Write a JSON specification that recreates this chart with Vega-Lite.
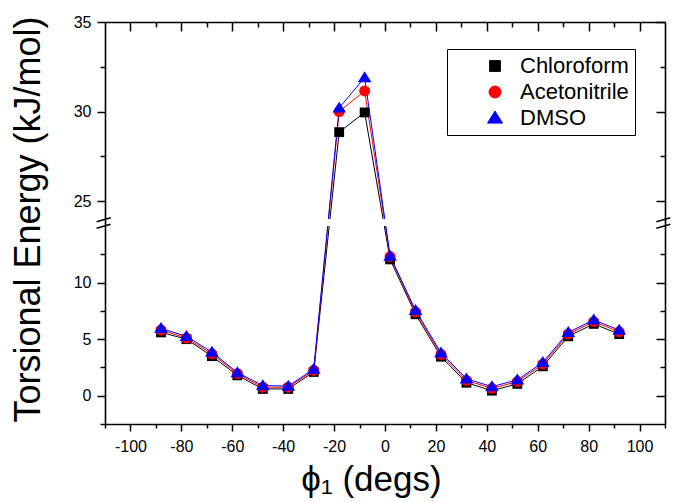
{
  "$schema": "https://vega.github.io/schema/vega-lite/v6.json",
  "width": 560,
  "height": 402,
  "autosize": {"type": "none"},
  "padding": {"left": 105, "top": 22, "right": 9, "bottom": 78},
  "background": "white",
  "config": {"view": {"stroke": null}, "font": "Liberation Sans"},
  "datasets": {
    "energy": [
      {"phi": -88, "solvent": "Chloroform", "energy": 5.6},
      {"phi": -78, "solvent": "Chloroform", "energy": 5.0},
      {"phi": -68, "solvent": "Chloroform", "energy": 3.5},
      {"phi": -58, "solvent": "Chloroform", "energy": 1.8},
      {"phi": -48, "solvent": "Chloroform", "energy": 0.6},
      {"phi": -38, "solvent": "Chloroform", "energy": 0.6},
      {"phi": -28, "solvent": "Chloroform", "energy": 2.1},
      {"phi": -18, "solvent": "Chloroform", "energy": 28.85},
      {"phi": -8, "solvent": "Chloroform", "energy": 29.95},
      {"phi": 2, "solvent": "Chloroform", "energy": 12.05},
      {"phi": 12, "solvent": "Chloroform", "energy": 7.2},
      {"phi": 22, "solvent": "Chloroform", "energy": 3.45},
      {"phi": 32, "solvent": "Chloroform", "energy": 1.15},
      {"phi": 42, "solvent": "Chloroform", "energy": 0.45},
      {"phi": 52, "solvent": "Chloroform", "energy": 1.05},
      {"phi": 62, "solvent": "Chloroform", "energy": 2.6},
      {"phi": 72, "solvent": "Chloroform", "energy": 5.25},
      {"phi": 82, "solvent": "Chloroform", "energy": 6.35},
      {"phi": 92, "solvent": "Chloroform", "energy": 5.45},
      {"phi": -88, "solvent": "Acetonitrile", "energy": 5.8},
      {"phi": -78, "solvent": "Acetonitrile", "energy": 5.1},
      {"phi": -68, "solvent": "Acetonitrile", "energy": 3.7},
      {"phi": -58, "solvent": "Acetonitrile", "energy": 1.95},
      {"phi": -48, "solvent": "Acetonitrile", "energy": 0.75},
      {"phi": -38, "solvent": "Acetonitrile", "energy": 0.75},
      {"phi": -28, "solvent": "Acetonitrile", "energy": 2.25},
      {"phi": -18, "solvent": "Acetonitrile", "energy": 30.0},
      {"phi": -8, "solvent": "Acetonitrile", "energy": 31.15},
      {"phi": 2, "solvent": "Acetonitrile", "energy": 12.3},
      {"phi": 12, "solvent": "Acetonitrile", "energy": 7.4},
      {"phi": 22, "solvent": "Acetonitrile", "energy": 3.65},
      {"phi": 32, "solvent": "Acetonitrile", "energy": 1.35},
      {"phi": 42, "solvent": "Acetonitrile", "energy": 0.65},
      {"phi": 52, "solvent": "Acetonitrile", "energy": 1.25},
      {"phi": 62, "solvent": "Acetonitrile", "energy": 2.8},
      {"phi": 72, "solvent": "Acetonitrile", "energy": 5.45},
      {"phi": 82, "solvent": "Acetonitrile", "energy": 6.55},
      {"phi": 92, "solvent": "Acetonitrile", "energy": 5.65},
      {"phi": -88, "solvent": "DMSO", "energy": 5.95},
      {"phi": -78, "solvent": "DMSO", "energy": 5.25},
      {"phi": -68, "solvent": "DMSO", "energy": 3.85},
      {"phi": -58, "solvent": "DMSO", "energy": 2.05},
      {"phi": -48, "solvent": "DMSO", "energy": 0.9},
      {"phi": -38, "solvent": "DMSO", "energy": 0.85},
      {"phi": -28, "solvent": "DMSO", "energy": 2.35},
      {"phi": -18, "solvent": "DMSO", "energy": 30.2},
      {"phi": -8, "solvent": "DMSO", "energy": 31.9},
      {"phi": 2, "solvent": "DMSO", "energy": 12.35},
      {"phi": 12, "solvent": "DMSO", "energy": 7.55},
      {"phi": 22, "solvent": "DMSO", "energy": 3.8},
      {"phi": 32, "solvent": "DMSO", "energy": 1.5},
      {"phi": 42, "solvent": "DMSO", "energy": 0.8},
      {"phi": 52, "solvent": "DMSO", "energy": 1.4},
      {"phi": 62, "solvent": "DMSO", "energy": 2.95},
      {"phi": 72, "solvent": "DMSO", "energy": 5.6},
      {"phi": 82, "solvent": "DMSO", "energy": 6.7},
      {"phi": 92, "solvent": "DMSO", "energy": 5.8}
    ]
  },
  "data": {"name": "energy"},
  "layer": [
    {
      "mark": {"type": "line", "strokeWidth": 1},
      "encoding": {
        "x": {
          "field": "phi", "type": "quantitative",
          "scale": {"domain": [-110, 110], "nice": false, "zero": false},
          "axis": {
            "orient": "bottom", "values": [-100, -80, -60, -40, -20, 0, 20, 40, 60, 80, 100],
            "tickSize": 7, "tickWidth": 1.5, "tickColor": "black",
            "domain": true, "domainWidth": 1.6, "domainColor": "black",
            "labelFont": "Liberation Sans", "labelFontSize": 16, "labelColor": "black",
            "labelPadding": 7, "labelFlush": false, "labelOverlap": false,
            "labelExpr": "'' + datum.value",
            "grid": false, "zindex": 1,
            "title": "ϕ₁ (degs)", "titleFont": "Liberation Sans", "titleFontSize": 35,
            "titleFontWeight": "normal", "titleColor": "black",
            "titleX": 266, "titleY": 66, "titleBaseline": "alphabetic", "titleAlign": "center"
          }
        },
        "y": {
          "field": "energy", "type": "quantitative",
          "scale": {"domain": [-2.5, 15, 24, 35], "range": [402, 204, 197, 0], "nice": false, "zero": false},
          "axis": {
            "orient": "left", "values": [0, 5, 10, 25, 30, 35],
            "tickSize": 8, "tickWidth": 1.5, "tickColor": "black",
            "domain": true, "domainWidth": 1.6, "domainColor": "black",
            "labelFont": "Liberation Sans", "labelFontSize": 16, "labelColor": "black",
            "labelPadding": 6, "labelFlush": false, "labelOverlap": false,
            "grid": false, "zindex": 1,
            "title": "Torsional Energy (kJ/mol)", "titleFont": "Liberation Sans", "titleFontSize": 36,
            "titleFontWeight": "normal", "titleColor": "black",
            "titleX": -66, "titleY": 197, "titleAngle": 270, "titleBaseline": "alphabetic", "titleAlign": "center"
          }
        },
        "color": {
          "field": "solvent", "type": "nominal",
          "scale": {"domain": ["Chloroform", "Acetonitrile", "DMSO"], "range": ["#000000", "#ff0000", "#0000ff"]},
          "legend": {
            "orient": "none", "legendX": 342, "legendY": 27, "title": null,
            "padding": 6, "strokeColor": "black", "fillColor": "white",
            "labelFont": "Liberation Sans", "labelFontSize": 22, "labelColor": "black",
            "labelOffset": 14, "symbolOffset": 31, "symbolSize": 144, "rowPadding": 4,
            "symbolStrokeWidth": 1,
            "encode": {
              "symbols": {
                "update": {
                  "shape": {"signal": "datum.value === 'Chloroform' ? 'M-4,0H4M-0.92,-0.92H0.92V0.92H-0.92Z' : datum.value === 'Acetonitrile' ? 'M-4,0H4M-1,0A1,1,0,1,0,1,0A1,1,0,1,0,-1,0Z' : 'M-4,0H4M0,-1.2L1.17,0.8L-1.17,0.8Z'"},
                  "fill": {"signal": "datum.value === 'Chloroform' ? '#000000' : datum.value === 'Acetonitrile' ? '#ff0000' : '#0000ff'"},
                  "stroke": {"signal": "datum.value === 'Chloroform' ? '#000000' : datum.value === 'Acetonitrile' ? '#ff0000' : '#0000ff'"},
                  "strokeWidth": {"value": 1},
                  "size": {"value": 144},
                  "opacity": {"value": 1}
                }
              }
            }
          }
        }
      }
    },
    {
      "data": {"values": [{}]},
      "mark": {"type": "rect", "color": "white"},
      "encoding": {
        "x": {"datum": -110, "type": "quantitative", "axis": null},
        "x2": {"datum": 110},
        "y": {"datum": 15, "type": "quantitative", "axis": null},
        "y2": {"datum": 24}
      }
    },
    {
      "mark": {"type": "point", "filled": true, "opacity": 1, "size": 120},
      "encoding": {
        "x": {
          "field": "phi", "type": "quantitative",
          "axis": {
            "orient": "bottom", "values": [-110, -90, -70, -50, -30, -10, 10, 30, 50, 70, 90, 110],
            "tickSize": 4, "tickWidth": 1.5, "tickColor": "black",
            "domain": false, "labels": false, "title": null, "grid": false, "zindex": 1
          }
        },
        "y": {
          "field": "energy", "type": "quantitative",
          "axis": {
            "orient": "left", "values": [-2.5, 2.5, 7.5, 12.5, 27.5, 32.5],
            "tickSize": 5, "tickWidth": 1.5, "tickColor": "black",
            "domain": false, "labels": false, "title": null, "grid": false, "zindex": 1
          }
        },
        "color": {
          "field": "solvent", "type": "nominal",
          "legend": {
            "orient": "none", "legendX": 342, "legendY": 27, "title": null,
            "padding": 6, "strokeColor": "black", "fillColor": "white",
            "labelFont": "Liberation Sans", "labelFontSize": 22, "labelColor": "black",
            "labelOffset": 14, "symbolOffset": 31, "symbolSize": 144, "rowPadding": 4,
            "symbolStrokeWidth": 1,
            "encode": {
              "symbols": {
                "update": {
                  "shape": {"signal": "datum.value === 'Chloroform' ? 'M-4,0H4M-0.92,-0.92H0.92V0.92H-0.92Z' : datum.value === 'Acetonitrile' ? 'M-4,0H4M-1,0A1,1,0,1,0,1,0A1,1,0,1,0,-1,0Z' : 'M-4,0H4M0,-1.2L1.17,0.8L-1.17,0.8Z'"},
                  "fill": {"signal": "datum.value === 'Chloroform' ? '#000000' : datum.value === 'Acetonitrile' ? '#ff0000' : '#0000ff'"},
                  "stroke": {"signal": "datum.value === 'Chloroform' ? '#000000' : datum.value === 'Acetonitrile' ? '#ff0000' : '#0000ff'"},
                  "strokeWidth": {"value": 1},
                  "size": {"value": 144},
                  "opacity": {"value": 1}
                }
              }
            }
          }
        },
        "shape": {
          "field": "solvent", "type": "nominal",
          "scale": {"domain": ["Chloroform", "Acetonitrile", "DMSO"], "range": ["M-0.9,-0.9H0.9V0.9H-0.9Z", "circle", "M0,-1.15L1.25,0.85L-1.25,0.85Z"]},
          "legend": {
            "orient": "none", "legendX": 342, "legendY": 27, "title": null,
            "padding": 6, "strokeColor": "black", "fillColor": "white",
            "labelFont": "Liberation Sans", "labelFontSize": 22, "labelColor": "black",
            "labelOffset": 14, "symbolOffset": 31, "symbolSize": 144, "rowPadding": 4,
            "symbolStrokeWidth": 1,
            "encode": {
              "symbols": {
                "update": {
                  "shape": {"signal": "datum.value === 'Chloroform' ? 'M-4,0H4M-0.92,-0.92H0.92V0.92H-0.92Z' : datum.value === 'Acetonitrile' ? 'M-4,0H4M-1,0A1,1,0,1,0,1,0A1,1,0,1,0,-1,0Z' : 'M-4,0H4M0,-1.2L1.17,0.8L-1.17,0.8Z'"},
                  "fill": {"signal": "datum.value === 'Chloroform' ? '#000000' : datum.value === 'Acetonitrile' ? '#ff0000' : '#0000ff'"},
                  "stroke": {"signal": "datum.value === 'Chloroform' ? '#000000' : datum.value === 'Acetonitrile' ? '#ff0000' : '#0000ff'"},
                  "strokeWidth": {"value": 1},
                  "size": {"value": 144},
                  "opacity": {"value": 1}
                }
              }
            }
          }
        }
      }
    },
    {
      "data": {"values": [{}]},
      "mark": {"type": "rule", "color": "black", "strokeWidth": 1.5},
      "encoding": {
        "x": {"datum": -113.3, "type": "quantitative",
          "axis": {
            "orient": "top", "values": [-100, -80, -60, -40, -20, 0, 20, 40, 60, 80, 100],
            "tickSize": -9, "tickWidth": 1.5, "tickColor": "black",
            "domain": true, "domainWidth": 1.6, "domainColor": "black",
            "labels": false, "title": null, "grid": false, "zindex": 1
          }
        },
        "x2": {"datum": -107.8},
        "y": {"datum": 20.5, "type": "quantitative",
          "axis": {
            "orient": "right", "values": [0, 5, 10, 25, 30, 35],
            "tickSize": -9, "tickWidth": 1.5, "tickColor": "black",
            "domain": true, "domainWidth": 1.6, "domainColor": "black",
            "labels": false, "title": null, "grid": false, "zindex": 1
          }
        },
        "y2": {"datum": 24.07}
      }
    },
    {
      "data": {"values": [{}]},
      "mark": {"type": "rule", "color": "black", "strokeWidth": 1.5},
      "encoding": {
        "x": {"datum": -113.3, "type": "quantitative",
          "axis": {
            "orient": "top", "values": [-90, -70, -50, -30, -10, 10, 30, 50, 70, 90],
            "tickSize": -5, "tickWidth": 1.5, "tickColor": "black",
            "domain": false, "labels": false, "title": null, "grid": false, "zindex": 1
          }
        },
        "x2": {"datum": -107.8},
        "y": {"datum": 14.8, "type": "quantitative",
          "axis": {
            "orient": "right", "values": [2.5, 7.5, 12.5, 27.5, 32.5],
            "tickSize": -5, "tickWidth": 1.5, "tickColor": "black",
            "domain": false, "labels": false, "title": null, "grid": false, "zindex": 1
          }
        },
        "y2": {"datum": 17.2}
      }
    },
    {
      "data": {"values": [{}]},
      "mark": {"type": "rule", "color": "black", "strokeWidth": 1.5},
      "encoding": {
        "x": {"datum": 106.6, "type": "quantitative", "axis": null},
        "x2": {"datum": 112.1},
        "y": {"datum": 20.5, "type": "quantitative", "axis": null},
        "y2": {"datum": 24.07}
      }
    },
    {
      "data": {"values": [{}]},
      "mark": {"type": "rule", "color": "black", "strokeWidth": 1.5},
      "encoding": {
        "x": {"datum": 106.6, "type": "quantitative", "axis": null},
        "x2": {"datum": 112.1},
        "y": {"datum": 14.8, "type": "quantitative", "axis": null},
        "y2": {"datum": 17.2}
      }
    }
  ],
  "resolve": {"axis": {"x": "independent", "y": "independent"}}
}
